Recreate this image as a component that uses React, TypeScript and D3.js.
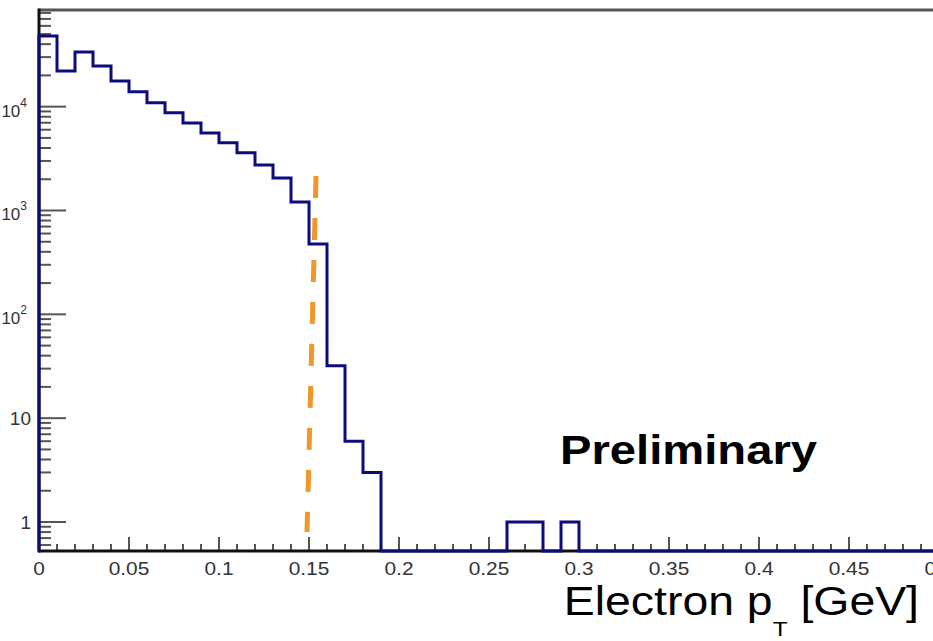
import React from 'react';
import * as d3 from 'd3';

// histogram: electron pT, 50 bins of 0.01 GeV from 0 to 0.5
const binWidth = 0.01;
const counts = [
  48000, 22100, 33700, 24700, 17700, 13900, 10900, 8720, 6980, 5590,
  4480, 3590, 2750, 2060, 1210, 476, 32, 6, 3, 0,
  0, 0, 0, 0, 0, 0, 1, 1, 0, 1,
  0, 0, 0, 0, 0, 0, 0, 0, 0, 0,
  0, 0, 0, 0, 0, 0, 0, 0, 0, 0,
];

// orange dashed cut line (x in GeV, y in counts)
const cutX = [0.1539, 0.1489];
const cutY = [2150, 0.8];

const xMajorTicks = [0, 0.05, 0.1, 0.15, 0.2, 0.25, 0.3, 0.35, 0.4, 0.45, 0.5];
const xTickLabels = ['0', '0.05', '0.1', '0.15', '0.2', '0.25', '0.3', '0.35', '0.4', '0.45', '0.5'];
const yMajorTicks = [1, 10, 100, 1000, 10000];
const yExponents = ['', '', '2', '3', '4'];

const W = 933;
const H = 641;
const left = 39, right = 939, top = 10, bottom = 551;

const font = 'Liberation Sans, Arial, Helvetica, sans-serif';

export default function App() {
  const x = d3.scaleLinear().domain([0, 0.5]).range([left, right]);
  const y = d3.scaleLog().domain([0.5256, 85300]).range([bottom, top]);
  const yMin = y.domain()[0];

  // step outline, empty bins sit on the frame bottom
  const pts: [number, number][] = [[0, yMin]];
  counts.forEach((c, i) => pts.push([i * binWidth, c > 0 ? c : yMin]));
  pts.push([counts.length * binWidth, counts[counts.length - 1] > 0 ? counts[counts.length - 1] : yMin]);
  pts.push([counts.length * binWidth, yMin]);
  const line = d3.line<[number, number]>()
    .x(d => x(d[0]))
    .y(d => y(d[1]))
    .curve(d3.curveStepAfter);

  const cutLine = d3.line<number>()
    .x((d, i) => x(cutX[i]))
    .y(d => y(d));

  const xMinor = d3.range(0, 51).map(i => i * 0.01);
  const yMinor: number[] = [];
  [0.1, 1, 10, 100, 1000, 10000].forEach(dec => {
    for (let k = 2; k <= 9; k++) {
      const v = dec * k;
      if (v >= yMin && v <= y.domain()[1]) yMinor.push(v);
    }
  });

  return (
    <svg width={W} height={H} style={{ position: 'absolute', left: 0, top: 0, background: '#fff' }}>
      {/* ticks */}
      <g stroke="#555" strokeWidth={2}>
        {xMinor.map((t, i) => (
          <line key={'xm' + i} x1={x(t)} x2={x(t)} y1={bottom} y2={bottom - 7} />
        ))}
        {xMajorTicks.map((t, i) => (
          <line key={'xM' + i} x1={x(t)} x2={x(t)} y1={bottom} y2={bottom - 14} />
        ))}
        {yMinor.map((t, i) => (
          <line key={'ym' + i} x1={left} x2={left + 12} y1={y(t)} y2={y(t)} />
        ))}
        {yMajorTicks.map((t, i) => (
          <line key={'yM' + i} x1={left} x2={left + 27} y1={y(t)} y2={y(t)} />
        ))}
      </g>

      {/* frame */}
      <line x1={left} x2={W} y1={top} y2={top} stroke="#555" strokeWidth={3} />
      <line x1={left} x2={left} y1={top - 1.5} y2={bottom + 1.5} stroke="#111" strokeWidth={3} />
      <line x1={left} x2={W} y1={bottom} y2={bottom} stroke="#111" strokeWidth={3} />

      {/* histogram */}
      <path d={line(pts) || ''} fill="none" stroke="#0c0c7c" strokeWidth={3} />

      {/* cut */}
      <path d={cutLine(cutY) || ''} fill="none" stroke="#f2962a" strokeWidth={5}
        strokeDasharray="22 20" />

      {/* x tick labels */}
      <g fontFamily={font} fontSize={19} fill="#333" textAnchor="middle">
        {xMajorTicks.map((t, i) => (
          <text key={'xl' + i} transform={`translate(${x(t)},575) scale(1.1,1)`}>{xTickLabels[i]}</text>
        ))}
      </g>

      {/* y tick labels */}
      <g fontFamily={font} fill="#333" textAnchor="end">
        {yMajorTicks.map((t, i) =>
          yExponents[i] === '' ? (
            <text key={'yl' + i} x={31} y={y(t) + 7} fontSize={19}>{t}</text>
          ) : (
            <text key={'yl' + i} x={27} y={y(t) + 10} fontSize={17}>
              10<tspan fontSize={12} dy={-10}>{yExponents[i]}</tspan>
            </text>
          )
        )}
      </g>

      {/* labels */}
      <text transform="translate(560,464) scale(1.18,1)" fontFamily={font} fontWeight="bold"
        fontSize={40} fill="#000">Preliminary</text>
      <text transform="translate(919,615) scale(1.16,1)" fontFamily={font} fontSize={40}
        fill="#000" textAnchor="end">
        Electron p<tspan fontSize={21} dy={21}>T</tspan><tspan dy={-21}> [GeV]</tspan>
      </text>
    </svg>
  );
}
